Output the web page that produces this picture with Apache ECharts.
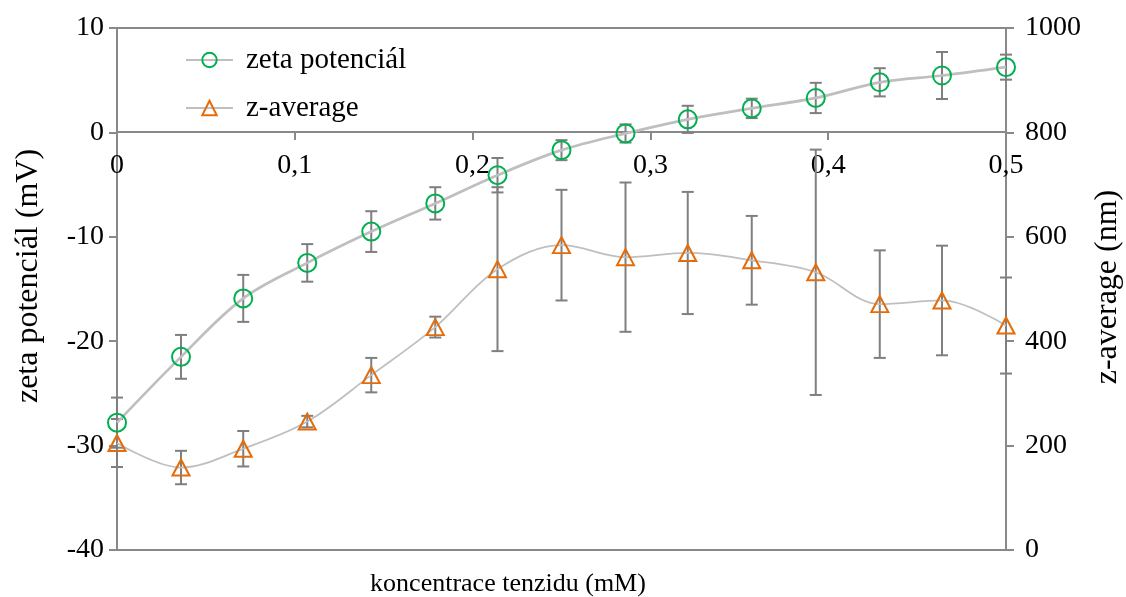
<!DOCTYPE html>
<html>
<head>
<meta charset="utf-8">
<script src="https://cdn.jsdelivr.net/npm/echarts@6/dist/echarts.min.js"></script>
<style>html,body{margin:0;padding:0;background:#fff}#c{width:1126px;height:597px}</style>
</head>
<body>
<div id="c"></div>
<script>
// ---- data ----
const concentrations = [0, 0.036, 0.071, 0.107, 0.143, 0.179, 0.214, 0.25, 0.286, 0.321, 0.357, 0.393, 0.429, 0.464, 0.5];
const zetaPotential = [-27.8, -21.5, -15.9, -12.5, -9.5, -6.8, -4.1, -1.7, -0.1, 1.25, 2.3, 3.3, 4.8, 5.45, 6.25];
const zetaError = [2.4, 2.1, 2.25, 1.8, 1.95, 1.55, 1.65, 0.96, 0.87, 1.3, 0.93, 1.45, 1.35, 2.25, 1.2];
const zAverage = [205, 158, 194, 246, 335, 427, 538, 584, 561, 569, 555, 532, 471, 478, 430];
const zAverageError = [46, 32, 34, 11, 33, 20, 157, 106, 143, 117, 85, 235, 103, 105, 92];
const seriesNames = ['zeta potenciál', 'z-average'];
const xTitle = 'koncentrace tenzidu (mM)';
const yLeftTitle = 'zeta potenciál (mV)';
const yRightTitle = 'z-average (nm)';

const FONT = '"Liberation Serif", "Times New Roman", serif';
const AXIS = '#898989';
const FS = 28;

const zetaPts = concentrations.map((x, i) => [x, zetaPotential[i]]);
const zavgPts = concentrations.map((x, i) => [x, zAverage[i]]);
const zetaErrPts = concentrations.map((x, i) => [x, zetaPotential[i] - zetaError[i], zetaPotential[i] + zetaError[i]]);
const zavgErrPts = concentrations.map((x, i) => [x, zAverage[i] - zAverageError[i], zAverage[i] + zAverageError[i]]);

function errRender(params, api) {
  const x = api.value(0), lo = api.value(1), hi = api.value(2);
  const a = api.coord([x, hi]), b = api.coord([x, lo]);
  const w = 6;
  const st = {stroke: '#7f7f7f', lineWidth: 2};
  return {type: 'group', children: [
    {type: 'line', shape: {x1: a[0], y1: a[1], x2: b[0], y2: b[1]}, style: st},
    {type: 'line', shape: {x1: a[0] - w, y1: a[1], x2: a[0] + w, y2: a[1]}, style: st},
    {type: 'line', shape: {x1: b[0] - w, y1: b[1], x2: b[0] + w, y2: b[1]}, style: st}
  ]};
}

const chart = echarts.init(document.getElementById('c'), null, {renderer: 'canvas'});
chart.setOption({
  animation: false,
  backgroundColor: '#fff',
  textStyle: {fontFamily: FONT, color: '#000'},
  graphic: [
    {type: 'text', x: 508, y: 584, silent: true,
      style: {text: xTitle, fontFamily: FONT, fontSize: 26, fill: '#000', align: 'center', verticalAlign: 'middle'}},
    {type: 'text', x: 29, y: 276, rotation: Math.PI / 2, silent: true,
      style: {text: yLeftTitle, fontFamily: FONT, fontSize: 32, fill: '#000', align: 'center', verticalAlign: 'middle'}},
    {type: 'text', x: 1108, y: 287, rotation: Math.PI / 2, silent: true,
      style: {text: yRightTitle, fontFamily: FONT, fontSize: 32, fill: '#000', align: 'center', verticalAlign: 'middle'}}
  ],
  grid: {left: 117, right: 120, top: 28, bottom: 47, show: true, borderColor: AXIS, borderWidth: 2},
  legend: {
    orient: 'vertical', left: 180, top: 40, itemWidth: 47, itemHeight: 18, itemGap: 18,
    textStyle: {fontFamily: FONT, fontSize: 29, lineHeight: 30, color: '#000', padding: [0, 0, 0, 8]},
    data: seriesNames
  },
  xAxis: {
    type: 'value', min: 0, max: 0.5, interval: 0.1, position: 'bottom', offset: -418,
    axisLine: {onZero: false, lineStyle: {color: AXIS, width: 2}},
    axisTick: {show: true, length: 8, lineStyle: {color: AXIS, width: 2}},
    axisLabel: {margin: 20, fontFamily: FONT, fontSize: FS, color: '#000',
      formatter: v => v === 0 ? '0' : v.toFixed(1).replace('.', ',')},
    splitLine: {show: false}
  },
  yAxis: [
    {
      type: 'value', min: -40, max: 10, interval: 10, position: 'left',
      axisLine: {show: true, lineStyle: {color: AXIS, width: 2}},
      axisTick: {show: true, length: 8, lineStyle: {color: AXIS, width: 2}},
      axisLabel: {margin: 13, fontFamily: FONT, fontSize: FS, color: '#000', formatter: v => String(v)},
      splitLine: {show: false}
    },
    {
      type: 'value', min: 0, max: 1000, interval: 200, position: 'right',
      axisLine: {show: true, lineStyle: {color: AXIS, width: 2}},
      axisTick: {show: true, length: 8, lineStyle: {color: AXIS, width: 2}},
      axisLabel: {margin: 19, fontFamily: FONT, fontSize: FS, color: '#000', formatter: v => String(v)},
      splitLine: {show: false}
    }
  ],
  series: [
    {type: 'custom', name: 'zetaErr', yAxisIndex: 0, renderItem: errRender, data: zetaErrPts, encode: {x: 0, y: [1, 2]}, z: 3, silent: true},
    {type: 'custom', name: 'zavgErr', yAxisIndex: 1, renderItem: errRender, data: zavgErrPts, encode: {x: 0, y: [1, 2]}, z: 3, silent: true},
    {
      type: 'line', name: seriesNames[0], yAxisIndex: 0, data: zetaPts, smooth: 0.35,
      symbol: 'circle', symbolSize: 18,
      lineStyle: {color: '#bfbfbf', width: 2.75},
      itemStyle: {color: 'rgba(255,255,255,0)', borderColor: '#00b050', borderWidth: 2},
      z: 4
    },
    {
      type: 'line', name: seriesNames[1], yAxisIndex: 1, data: zavgPts, smooth: 0.35,
      symbol: 'triangle', symbolSize: [17, 16],
      lineStyle: {color: '#bfbfbf', width: 1.75},
      itemStyle: {color: 'rgba(255,255,255,0)', borderColor: '#e46c0a', borderWidth: 2},
      z: 4
    }
  ]
});
</script>
</body>
</html>
